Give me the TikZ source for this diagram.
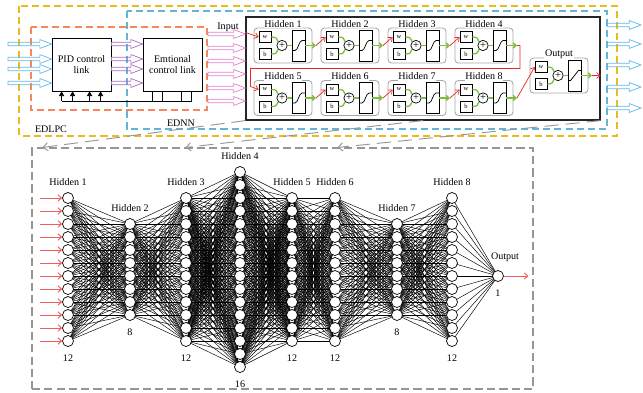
\documentclass[tikz,border=0pt]{standalone}
\usepackage{fontspec}
\setmainfont{Liberation Serif}
\usetikzlibrary{positioning,calc,arrows.meta}
\pgfdeclarelayer{background}
\pgfsetlayers{background,main}

\definecolor{edlpcyellow}{RGB}{232,188,30}
\definecolor{ednnblue}{RGB}{100,180,212}
\definecolor{pidorange}{RGB}{245,135,90}
\definecolor{inblue}{RGB}{90,185,235}
\definecolor{linkviolet}{RGB}{165,105,195}
\definecolor{inpink}{RGB}{225,130,205}
\definecolor{zoomgray}{RGB}{150,150,150}
\definecolor{wgreen}{RGB}{125,190,60}
\definecolor{chainred}{RGB}{230,40,40}
\definecolor{inred}{RGB}{240,95,95}

\newcommand{\hollowarrow}[3]{%
  \draw[#1,line width=0.6pt] let \p1=(#2), \p2=(#3) in
    (\x1,\y1+1.5pt) -- (\x2-10pt,\y1+1.5pt) -- (\x2-10pt,\y1+3.8pt) -- (\x2,\y1)
    -- (\x2-10pt,\y1-3.8pt) -- (\x2-10pt,\y1-1.5pt) -- (\x1,\y1-1.5pt) -- cycle;}

\newcommand{\nnblock}[5]{%
  \node[blockbox] (#1) at (#2,#3) {};
  \node[blocktitle] (#1-t) at (#2,#3-21.5) {#4};
  \node[wbbox] (#1-w) at (#2-18,#3-8.5) {w};
  \node[wbbox] (#1-b) at (#2-18,#3+8.5) {b};
  \node[sumnode] (#1-s) at (#2-1,#3) {+};
  \node[actbox] (#1-f) at (#2+15.5,#3) {};
  \coordinate (#1-o) at (#2+33,#3);
  \draw[wline] (#1-w.east) .. controls +(6,0) and +(-2,-3) .. (#1-s.north west);
  \draw[wline] (#1-b.east) .. controls +(6,0) and +(-2,3) .. (#1-s.south west);
  \draw[wline] (#1-s.east) -- (#1-f.west);
  \draw[wline,-{Straight Barb[length=2.5pt,width=4.5pt]}] (#1-f.east) -- (#1-o);
  \ifnum#5=1
    \draw[line width=0.6pt] ($(#1-f)+(-6.5,5)$) -- ++(3,0) .. controls +(3,0) and +(-3,0) .. ++(7,-10) -- ++(3,0);
  \else
    \draw[line width=0.6pt] ($(#1-f)+(-6.5,5)$) -- ++(2.5,0) -- ++(8,-10) -- ++(2.5,0);
  \fi}

\begin{document}
\begin{tikzpicture}[x=0.03cm,y=-0.03cm,
  font=\fontsize{8.6}{9.8}\selectfont,
  lbl/.style={inner sep=1pt},
  edlpcframe/.style={draw=edlpcyellow,line width=0.9pt,dash pattern=on 6pt off 3.5pt},
  ednnframe/.style={draw=ednnblue,line width=0.9pt,dash pattern=on 6pt off 3.5pt},
  pidframe/.style={draw=pidorange,line width=0.9pt,dash pattern=on 6pt off 3.5pt},
  ctrlbox/.style={draw,line width=0.7pt,minimum width=1.77cm,minimum height=1.59cm,align=center,inner sep=1pt},
  nnframe/.style={draw=black!85,line width=1pt,minimum width=10.62cm,minimum height=3.09cm},
  busline/.style={line width=0.7pt},
  busarrow/.style={line width=0.7pt,-{Triangle[length=4pt,width=4.5pt]}},
  blockbox/.style={draw=black!35,line width=0.7pt,rounded corners=3pt,minimum width=1.74cm,minimum height=1.05cm},
  blocktitle/.style={inner sep=0.5pt,fill=white},
  wbbox/.style={draw,line width=0.6pt,minimum width=0.36cm,minimum height=0.33cm,inner sep=0pt,font=\fontsize{5.5}{6}\selectfont},
  sumnode/.style={circle,draw,line width=0.6pt,minimum size=0.31cm,inner sep=0pt,font=\fontsize{9}{9}\selectfont},
  actbox/.style={draw,line width=0.7pt,minimum width=0.39cm,minimum height=0.93cm},
  wline/.style={draw=wgreen,line width=1.1pt},
  chainline/.style={draw=chainred,line width=0.6pt,-{Straight Barb[length=3pt,width=5pt]}},
  zoomframe/.style={draw=zoomgray,line width=0.9pt,dash pattern=on 7pt off 3.5pt,minimum width=15.03cm,minimum height=7.23cm},
  zoomline/.style={draw=zoomgray,line width=0.8pt,dash pattern=on 12pt off 6pt,-{Straight Barb[length=4pt,width=7pt]}},
  neuron/.style={circle,draw,fill=white,line width=0.6pt,minimum size=0.33cm,inner sep=0pt},
  synapse/.style={line width=0.4pt},
  inarrow/.style={draw=inred,line width=0.8pt,-{Straight Barb[length=3pt,width=5.5pt]}}]
\useasboundingbox (0,0) rectangle (643,393);

\draw[edlpcframe] (19,6) rectangle (617,136);
\draw[ednnframe] (127,11) rectangle (607,129);
\draw[pidframe] (31,27) rectangle (207,110);
\node[lbl] (edlpc) at (51,129) {EDLPC};
\node[lbl] (ednnlbl) at (181,123) {EDNN};
\node[lbl] (inputlbl) at (228,27) {Input};

\node[ctrlbox] (pid) at (81.5,64.5) {PID control\\link};
\node[ctrlbox] (emo) at (172.5,64.5) {Emtional\\control link};
\node[nnframe] (ednn) at (423,68.5) {};

\foreach \i/\y in {1/44,2/59,3/69,4/83} {
  \coordinate (in\i) at (8,\y);
  \hollowarrow{inblue}{in\i}{pid.west |- in\i}
  \hollowarrow{linkviolet}{pid.east |- in\i}{emo.west |- in\i}
}
\foreach \i/\y in {1/34,2/48,3/61,4/74,5/88,6/101} {
  \coordinate (pk\i) at (208,\y);
  \hollowarrow{inpink}{pk\i}{ednn.west |- pk\i}
}
\foreach \i/\y in {1/25,2/44,3/65,4/87,5/108} {
  \coordinate (oa\i) at (607,\y);
  \coordinate (ob\i) at (641,\y);
  \hollowarrow{inblue}{oa\i}{ob\i}
}

\foreach \dx in {10,21,38,49}
  \draw[busarrow] ($(pid.south west)+(\dx,10)$) -- ($(pid.south west)+(\dx,0)$);
\foreach \dx in {10,20,39,49}
  \draw[busline] ($(emo.south west)+(\dx,0)$) -- ++(0,10);
\draw[busline] ($(pid.south west)+(10,10)$) -- ($(emo.south west)+(49,10)$);

\nnblock{h1}{283}{45.5}{Hidden 1}{1}
\nnblock{h2}{350}{45.5}{Hidden 2}{1}
\nnblock{h3}{417}{45.5}{Hidden 3}{1}
\nnblock{h4}{484}{45.5}{Hidden 4}{1}
\nnblock{h5}{283}{98}{Hidden 5}{1}
\nnblock{h6}{350}{98}{Hidden 6}{1}
\nnblock{h7}{417}{98}{Hidden 7}{1}
\nnblock{h8}{484}{98}{Hidden 8}{1}
\nnblock{ho}{559}{75.5}{Output}{0}

\coordinate (nnin) at ($(ednn.north west)+(0,16)$);
\coordinate (turn) at ($(ednn.west)+(5,0)$);
\draw[chainline] (nnin) -- (h1-w.west);
\foreach \a/\b in {h1/h2,h2/h3,h3/h4,h5/h6,h6/h7,h7/h8,h8/ho}
  \draw[chainline] (\a-o) -- (\b-w.west);
\draw[chainline] (h4-o) -- ++(3,0) |- (turn) -- ++(0,18) -- (h5-w.west);
\draw[chainline] (ho-o) -- (ednn.east |- ho-o);

\node[zoomframe] (zoom) at (282.5,268.5) {};
\draw[zoomline] (ednn.south west) -- ($(zoom.north west)+(11,0)$);
\draw[zoomline] (ednn.south) -- ($(zoom.north west)+(154,0)$);
\draw[zoomline] (ednn.south east) -- ($(zoom.north west)+(306,0)$);

\foreach \l/\x/\n in {1/68/12,2/130/8,3/186/12,4/240/16,5/292/12,6/335/12,7/397/8,8/452/12} {
  \foreach \i in {1,...,\n}
    \node[neuron] (n\l-\i) at (\x,{269.5+(\i-(\n+1)/2)*13}) {};
  \node[lbl,above=4pt of n\l-1] {Hidden \l};
  \node[lbl,below=6pt of n\l-\n] {\n};
}
\node[neuron] (n9-1) at (498,276) {};
\node[lbl,above=6pt of n9-1,xshift=6pt] {Output};
\node[lbl,below=6pt of n9-1] {1};

\begin{pgfonlayer}{background}
\foreach \a/\na/\b/\nb in {1/12/2/8,2/8/3/12,3/12/4/16,4/16/5/12,5/12/6/12,6/12/7/8,7/8/8/12,8/12/9/1}
  \foreach \i in {1,...,\na}
    \foreach \j in {1,...,\nb}
      \draw[synapse] (n\a-\i.center) -- (n\b-\j.center);
\end{pgfonlayer}

\foreach \i in {1,...,12}
  \draw[inarrow] ([xshift=-19pt]n1-\i.west) -- (n1-\i.west);
\draw[inarrow] (n9-1.east) -- ([xshift=21pt]n9-1.east);
\end{tikzpicture}
\end{document}
